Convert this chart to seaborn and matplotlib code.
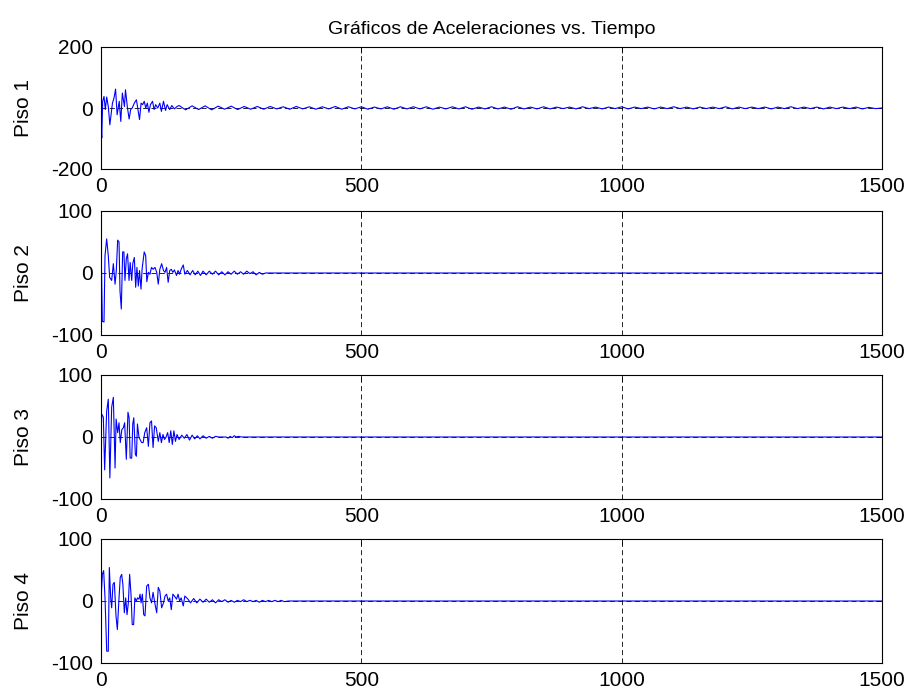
import numpy as np
import matplotlib
matplotlib.use("Agg")
import matplotlib.pyplot as plt
import seaborn as sns

# ------------------------------------------------------------
# Datos (tiempo, aceleracion) por piso
# ------------------------------------------------------------
piso1_t = [0, 1.5, 3.2, 5.8, 8.3, 10.9, 14, 17, 22, 25, 28, 31, 35, 38, 41, 45, 47, 50.5,
           54, 57, 60, 64, 68, 71, 74, 77, 80, 83, 86, 89, 92, 95, 99, 102, 105, 109,
           113, 116, 120, 124, 127, 132, 136, 141, 146]
piso1_a = [-60, -98, 22, 38, -5, 36, 5, -55, 16, 33, 62, -22, 22, -44, 49, 5, 60, 5,
           -36, -5, 0, 16, 27, -5, -38, 16, 11, 22, 0, 16, -14, 11, 22, -5, 11, 0,
           16, -11, 22, -8, 11, -5, 8, -3, 5]
# cola de piso 1: oscilacion pequena, paso de 12.5 desde t=150
piso1_cola = [8, -6, 7, -5, 7, -6, 6, -4, 6, -5, 5, -4, 5, -4, 5, -3,
              4, -4, 5, -3, 4, -4, 4, -3, 5, -4, 4, -3, 4, -4, 3, -3,
              4, -4, 4, -3, 4, -3, 4, -4, 3, -3, 4, -3, 4, -4, 3, -3,
              4, -3, 3, -4, 4, -3, 3, -3, 4, -3, 3, -2, 3, -3, 4, -2,
              3, -3, 3, -2, 4, -3, 3, -2, 3, -3, 3, -2, 4, -2, 3, -3,
              3, -2, 3, -2, 4, -3, 3, -2, 3, -2, 3, -3, 3, -2, 4, -2,
              3, -2, 3, -3, 3, -2, 3, -2, 3, -3, 2, -2, 0]

piso2_t = [0, 2.6, 5.8, 7.7, 10.9, 14, 16.6, 20.5, 23.7, 27, 29.4, 32, 34.6, 36.5, 39,
           41.6, 44, 46, 48.6, 51, 53.8, 56, 59, 61, 64, 66.6, 69, 71.7, 74, 76.8, 79,
           83, 85.8, 88, 91, 94, 97, 100, 103.7, 107, 110, 113, 116.5, 120, 123, 126,
           129, 132, 135, 138, 141, 145, 148, 151, 154, 158, 161, 166, 171, 176, 181,
           186, 191, 196, 202, 208, 214, 220, 226, 232, 238, 244, 250, 256, 262, 268,
           274, 280, 286, 292, 298, 304, 310, 316, 1500]
piso2_a = [55, -78, -79, 28, 55, 28, -7, -12, 15, -18, 4, 53, 50, -29, -58,
           34, 34, -12, 23, 31, -12, 17, -12, 15, 25, -23, 9, -21, 4, -26, 7,
           34, 28, -14, 1, -2, 9, 6, 9, 1, -18, 6, 15, 4, 1, 9,
           -15, 4, 6, 1, 5, -4, 4, -2, 6, 13, -2, 4, -3, 4, -3,
           3, -4, 3, -3, 3, -2, 3, -3, 2, -3, 2, -2, 3, -2, 2,
           -2, 3, -1, 2, -3, 1, -2, 0, 0]

piso3_t = [0, 1.3, 4.5, 7, 10.9, 14, 17, 20.5, 23.7, 27, 29, 32, 34.6, 37, 40, 43,
           45.4, 48.6, 51.8, 54, 56, 59, 61, 63, 66, 68, 70, 73, 75, 78, 81, 84, 87.7,
           91, 94, 97, 100, 103, 106, 110, 113, 116, 119, 122, 125, 128, 131, 134, 137,
           140, 143, 146, 150, 155, 160, 165, 170, 175, 180, 185, 190, 196, 202, 208,
           214, 220, 226, 240, 244, 248, 252, 256, 260, 264, 270, 1500]
piso3_a = [0, 37, 32, -53, 42, 61, -66, 48, 64, -50, 29, 7, 23, -9, 12, 15,
           23, -36, 40, 31, -34, -34, 21, 31, -28, -31, 21, -1, -4, -9, -9, 7, 15,
           -15, 23, 26, -17, 18, 15, -7, 7, -9, 4, -4, 0, 7, -9, 10, -12,
           10, -7, 4, -4, 3, -2, 4, -5, 3, -3, 2, -3, 2, -2, 1,
           -2, 1, 0, 0, -2, 1, -1, 2, 0, 1, 0, 0]

piso4_t = [0, 2.6, 5.1, 7.7, 11, 14, 16, 18.6, 20.5, 23, 25.6, 28.8, 31.4, 34.6, 37,
           39.7, 42, 44.8, 47.4, 50, 52.5, 55, 57.6, 60, 62.7, 65, 68, 70, 73, 75, 77,
           79.4, 82, 84.5, 87.7, 91, 94, 97, 100, 103.7, 107, 110, 113, 116.5, 120,
           123, 126, 129, 132, 135, 138, 141, 145, 148, 151, 154, 158, 161, 167, 172,
           178, 184, 190, 196, 202, 208, 214, 220, 226, 232, 238, 244, 250, 256, 262,
           268, 274, 280, 286, 292, 298, 304, 310, 316, 322, 328, 334, 340, 346, 352,
           360, 1500]
piso4_a = [0, 43, 49, 5, -81, -81, 54, 5, -11, 27, 30, -24, -46, 5, 38,
           43, 27, -19, 5, -22, -3, 43, 11, -38, -38, 5, 0, 5, 3, 11, -3,
           11, -22, -24, 24, 27, 5, -3, 14, -5, -19, 22, 16, -11, -3,
           8, 11, 0, 5, -14, 11, 8, 3, 11, 0, 5, -8, 8, 3, -3,
           4, -3, 3, -2, 3, -2, 2, -3, 2, -1, 2, -2, 1, -2, 1,
           -1, 2, -1, 1, -1, 1, -2, 1, -1, 1, -1, 1, -1, 1, -1,
           0, 0]

t_cola = 150 + 12.5 * np.arange(len(piso1_cola))
tiempos = [np.r_[piso1_t, t_cola], piso2_t, piso3_t, piso4_t]
acel = [np.r_[piso1_a, piso1_cola], piso2_a, piso3_a, piso4_a]
etiquetas = ["Piso 1", "Piso 2", "Piso 3", "Piso 4"]
ylims = [(-200, 200), (-100, 100), (-100, 100), (-100, 100)]

# ------------------------------------------------------------
# Grafico
# ------------------------------------------------------------
sns.set_style("white")
plt.rcParams["font.family"] = ["Liberation Sans", "DejaVu Sans"]
plt.rcParams["axes.unicode_minus"] = False
plt.rcParams["text.color"] = "black"
plt.rcParams["axes.labelcolor"] = "black"

W, H = 912, 694
fig = plt.figure(figsize=(W / 100, H / 100), dpi=100)
tops = [47, 211, 375, 539]
bottoms = [169, 335, 499, 663]
left, right = 101, 882

for i in range(4):
    ax = fig.add_axes([left / W, 1 - bottoms[i] / H, (right - left) / W,
                       (bottoms[i] - tops[i]) / H])
    sns.lineplot(x=tiempos[i], y=acel[i], ax=ax, color="blue", linewidth=0.8,
                 estimator=None, sort=False)
    ax.set_xlim(0, 1500)
    ax.set_ylim(*ylims[i])
    ax.set_xticks([0, 500, 1000, 1500])
    ax.set_yticks([ylims[i][0], 0, ylims[i][1]])
    ax.tick_params(direction="in", top=True, right=True, length=4, width=0.6,
                   labelsize=15, pad=6, colors="black")
    ax.grid(True, color="black", linestyle=(0, (6, 4)), linewidth=0.6)
    ax.set_axisbelow(True)
    for s in ax.spines.values():
        s.set_color("black")
        s.set_linewidth(0.8)
    ax.set_xlabel("")
    ax.set_ylabel(etiquetas[i], fontsize=15, color="black")
    ax.yaxis.set_label_coords(-0.087, 0.5)
    if i == 0:
        ax.set_title("Gráficos de Aceleraciones vs. Tiempo", fontsize=14, pad=9,
                     color="black")

fig.savefig("out.png", dpi=100)
